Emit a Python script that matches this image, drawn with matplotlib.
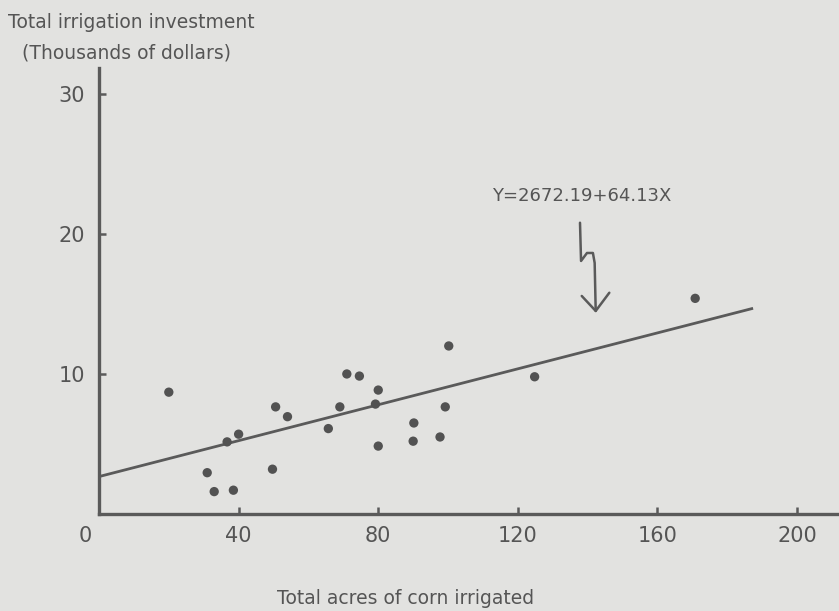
import matplotlib.pyplot as plt
import matplotlib.transforms as mtransforms
import numpy as np

# acres of corn irrigated vs irrigation investment (thousands of dollars)
acres = [20, 31, 33, 38.5, 36.7, 40, 49.7, 50.6, 54, 65.7, 69, 71, 74.6,
         80, 79.2, 80, 90.2, 90, 97.7, 99.2, 100.2, 124.8, 170.8]
investment = [8.7, 2.95, 1.6, 1.7, 5.15, 5.7, 3.2, 7.65, 6.95, 6.1, 7.65, 10.0,
              9.85, 8.85, 7.85, 4.85, 6.5, 5.2, 5.5, 7.65, 12.0, 9.8, 15.4]

# regression Y = 2672.19 + 64.13X  (dollars)
intercept = 2672.19
slope = 64.13
line_end = 187

x_ticks = [0, 40, 80, 120, 160, 200]
y_ticks = [10, 20, 30]

bg = '#e2e2e0'
ink = '#5a5a5a'
txt = '#555555'

fig = plt.figure(figsize=(8.39, 6.11), dpi=100, facecolor=bg)
ax = fig.add_axes([99 / 839, 97 / 611, 740 / 839, 446 / 611])
ax.set_facecolor(bg)

# points
ax.scatter(acres, investment, s=45, color='#525252', edgecolors='none', zorder=3)

# fitted line, converted to thousands of dollars
xl = np.array([0, line_end])
ax.plot(xl, (intercept + slope * xl) / 1000, color=ink, lw=2, zorder=2)

ax.set_xlim(0, 212)
ax.set_ylim(0, 31.85)

for s in ['top', 'right']:
    ax.spines[s].set_visible(False)
for s in ['left', 'bottom']:
    ax.spines[s].set_color(ink)
    ax.spines[s].set_linewidth(2.4)

ax.set_xticks(x_ticks)
ax.set_xticklabels([str(v) for v in x_ticks])
ax.set_yticks(y_ticks)
ax.set_yticklabels([str(v) for v in y_ticks])
ax.tick_params(axis='both', direction='in', length=5, width=1.8, color=ink,
               labelcolor=txt, labelsize=15)
ax.tick_params(axis='x', pad=9)
ax.tick_params(axis='y', pad=10)
ax.xaxis.get_major_ticks()[0].tick1line.set_visible(False)

# move the "0" label left of the y axis
zero = ax.get_xticklabels()[0]
zero.set_transform(zero.get_transform() + mtransforms.ScaledTranslation(-0.14, 0, fig.dpi_scale_trans))

# axis titles
fig.text(8 / 839, 1 - 22 / 611, 'Total irrigation investment', ha='left', va='center',
         fontsize=13.5, color=txt)
fig.text(22 / 839, 1 - 53 / 611, '(Thousands of dollars)', ha='left', va='center',
         fontsize=13.5, color=txt)
fig.text(406 / 839, 1 - 598 / 611, 'Total acres of corn irrigated', ha='center', va='center',
         fontsize=13.5, color=txt)

# equation with hand drawn arrow
ax.text(138.4, 22.7, 'Y=2672.19+64.13X', ha='center', va='center', fontsize=13,
        color=txt)
arrow_x = [137.8, 138.1, 139.8, 141.5, 142.0, 142.3]
arrow_y = [20.8, 18.07, 18.64, 18.64, 17.93, 14.5]
ax.plot(arrow_x, arrow_y, color=ink, lw=1.8, solid_capstyle='round', clip_on=False)
ax.plot([138.3, 142.3, 146.2], [15.57, 14.5, 15.8], color=ink, lw=1.8,
        solid_capstyle='round', solid_joinstyle='round')

fig.savefig('out.png', dpi=100, facecolor=bg)
